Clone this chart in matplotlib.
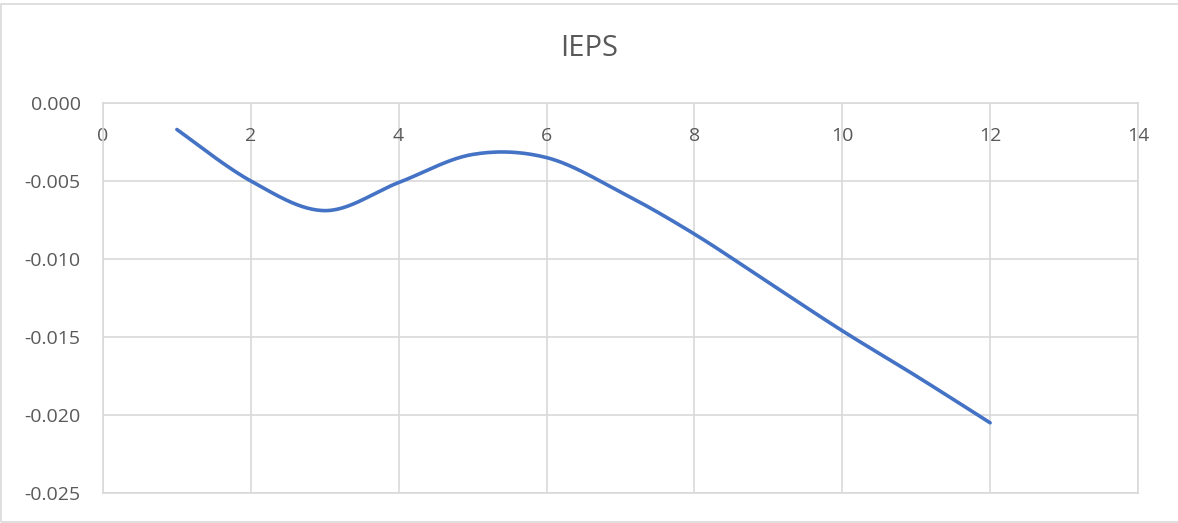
import numpy as np
import matplotlib.pyplot as plt
from matplotlib.patches import Rectangle

# datos
periodos = [1, 2, 3, 4, 5, 6, 7, 8, 9, 10, 11, 12]
ieps = [-0.0017, -0.0050, -0.0069, -0.0051, -0.0033, -0.0035,
        -0.0057, -0.0084, -0.0115, -0.0146, -0.0175, -0.0205]
x_ticks = [0, 2, 4, 6, 8, 10, 12, 14]
y_ticks = [0.000, -0.005, -0.010, -0.015, -0.020, -0.025]
titulo = 'IEPS'


def curva_suavizada(xs, ys, pasos=30):
    """Suavizado tipo Excel (Bezier con puntos de control de Catmull-Rom)."""
    p = np.column_stack([xs, ys]).astype(float)
    p_ext = np.vstack([p[0], p, p[-1]])
    t = np.linspace(0, 1, pasos)[:, None]
    segmentos = []
    for i in range(1, len(p_ext) - 2):
        p0, p1 = p_ext[i], p_ext[i + 1]
        c1 = p0 + (p_ext[i + 1] - p_ext[i - 1]) / 6
        c2 = p1 - (p_ext[i + 2] - p_ext[i]) / 6
        seg = ((1 - t) ** 3) * p0 + 3 * ((1 - t) ** 2) * t * c1 \
            + 3 * (1 - t) * t ** 2 * c2 + t ** 3 * p1
        segmentos.append(seg if i == 1 else seg[1:])
    curva = np.vstack(segmentos)
    return curva[:, 0], curva[:, 1]


plt.rcParams['font.family'] = ['Open Sans', 'DejaVu Sans']
gris_texto = '#595959'
gris_linea = '#D9D9D9'

fig = plt.figure(figsize=(11.78, 5.23), dpi=100)
ax = fig.add_axes([0.0874, 0.0574, 0.8786, 0.7457])

# marco del area del grafico
fig.patches.append(Rectangle((0.001, 0.002), 1.2, 1 - 0.0076 - 0.002,
                             transform=fig.transFigure, fill=False,
                             edgecolor=gris_linea, linewidth=1.2))

xs, ys = curva_suavizada(periodos, ieps)
ax.plot(xs, ys, color='#4472C4', linewidth=2.6, solid_capstyle='round', zorder=3)

ax.set_xlim(0, 14)
ax.set_ylim(-0.025, 0)
ax.set_xticks(x_ticks)
ax.set_yticks(y_ticks)
ax.set_yticklabels([f'{v:.3f}' for v in y_ticks])
ax.xaxis.tick_top()
ax.tick_params(axis='x', length=0, pad=-30, labelsize=14, labelcolor=gris_texto)
ax.tick_params(axis='y', length=0, pad=16, labelsize=14, labelcolor=gris_texto)

ax.grid(True, color=gris_linea, linewidth=1.2)
for lado in ax.spines.values():
    lado.set_color(gris_linea)
    lado.set_linewidth(1.2)

fig.text(0.5, 0.908, titulo, ha='center', va='center', fontsize=21, color=gris_texto)

fig.savefig('out.png', dpi=100)
